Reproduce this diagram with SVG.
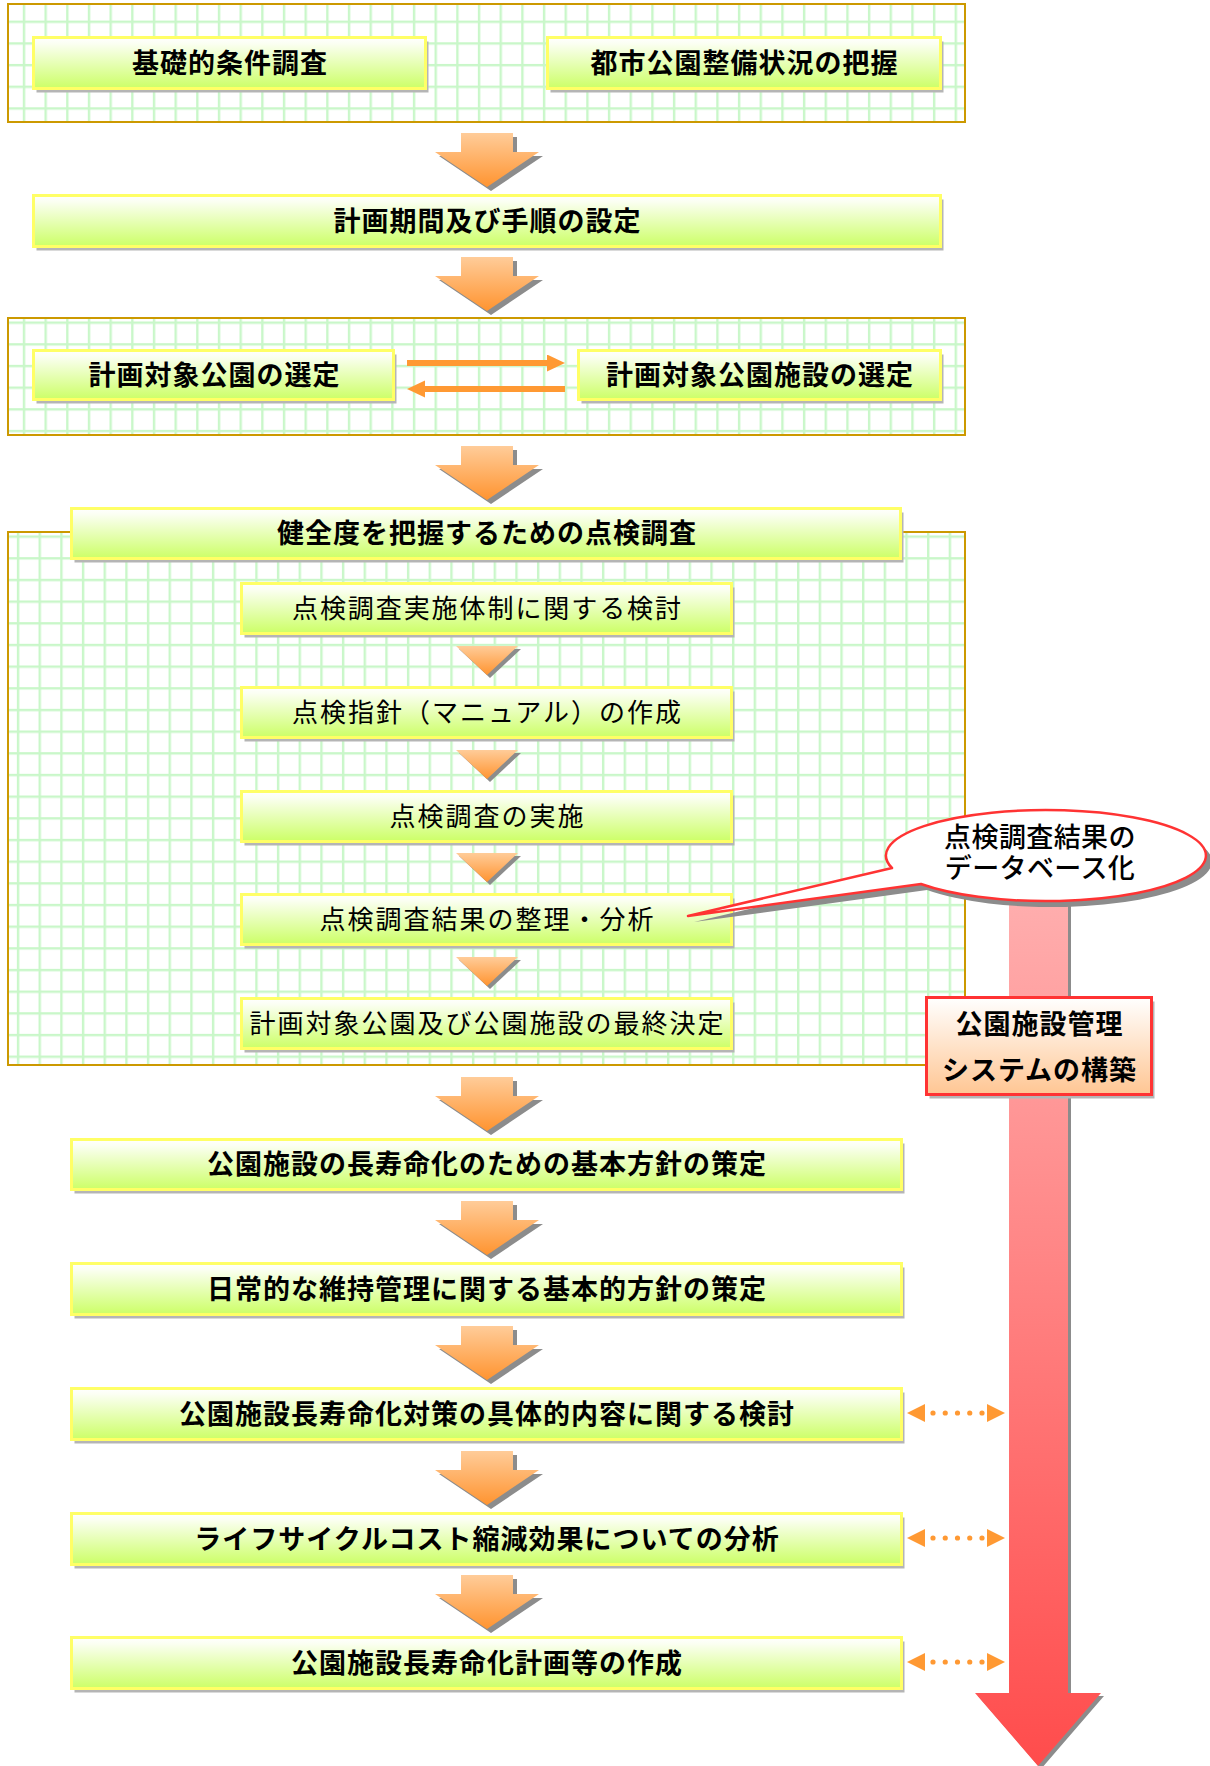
<svg xmlns="http://www.w3.org/2000/svg" xmlns:xlink="http://www.w3.org/1999/xlink" width="1210" height="1766" viewBox="0 0 1210 1766">
<style>
.panel{stroke:#cc9900;stroke-width:2}
.box{fill:url(#gBox);stroke:#ffff66;stroke-width:3}
.sh{fill:#b5b5b5}
.t1{font-family:"Noto Sans CJK JP","Noto Sans CJK SC",sans-serif;font-weight:700;font-size:27px;letter-spacing:1px;text-anchor:middle;fill:#000}
.t2{font-family:"Noto Sans CJK JP","Noto Sans CJK SC",sans-serif;font-weight:400;font-size:26px;letter-spacing:2px;text-anchor:middle;fill:#000}
.t3{font-family:"Liberation Sans","Noto Sans CJK JP","Noto Sans CJK SC",sans-serif;font-weight:500;font-size:27px;letter-spacing:0.4px;text-anchor:middle;fill:#000}
.ash{fill:#8c8c8c}
.aor{fill:url(#gOr)}
.sol{stroke:#ff9933;stroke-width:6;fill:none}
.dot{stroke:#ff9933;stroke-width:5.2;stroke-linecap:round;stroke-dasharray:0 12.25;stroke-dashoffset:4.25;fill:none}
</style>
<defs>
<linearGradient id="gBox" x1="0" y1="0" x2="0" y2="1">
<stop offset="0" stop-color="#ffffff"/>
<stop offset="0.12" stop-color="#fbfff2"/>
<stop offset="1" stop-color="#ccff66"/>
</linearGradient>
<linearGradient id="gOr" x1="0" y1="0" x2="0" y2="1">
<stop offset="0" stop-color="#ffcc99"/>
<stop offset="1" stop-color="#ff9430"/>
</linearGradient>
<linearGradient id="gPeach" x1="0" y1="0" x2="0" y2="1">
<stop offset="0" stop-color="#ffffff"/>
<stop offset="1" stop-color="#ffc693"/>
</linearGradient>
<linearGradient id="gRed" gradientUnits="userSpaceOnUse" x1="0" y1="880" x2="0" y2="1766">
<stop offset="0" stop-color="#ffb0b0"/>
<stop offset="1" stop-color="#ff4c4c"/>
</linearGradient>
<pattern id="grid1" patternUnits="userSpaceOnUse" x="22.8" y="20.6" width="21.67" height="21.67">
<rect width="21.67" height="21.67" fill="#ffffff"/>
<rect width="2.4" height="21.67" fill="#c9f7c9"/>
<rect width="21.67" height="2.4" fill="#c9f7c9"/>
</pattern>
<pattern id="grid2" patternUnits="userSpaceOnUse" x="22.8" y="321.5" width="21.67" height="21.67">
<rect width="21.67" height="21.67" fill="#ffffff"/>
<rect width="2.4" height="21.67" fill="#c9f7c9"/>
<rect width="21.67" height="2.4" fill="#c9f7c9"/>
</pattern>
<pattern id="grid3" patternUnits="userSpaceOnUse" x="862" y="795.5" width="21.67" height="21.67">
<rect width="21.67" height="21.67" fill="#ffffff"/>
<rect width="2.4" height="21.67" fill="#c9f7c9"/>
<rect width="21.67" height="2.4" fill="#c9f7c9"/>
</pattern>
<path id="bigArrow" d="M-26,0 H26 V19 H52 L0,54 L-52,19 H-26 Z"/>
<path id="smallTri" d="M-31,0 H31 L0,29 Z"/>
<marker id="mSolid" markerUnits="userSpaceOnUse" markerWidth="18" markerHeight="18" refX="0" refY="8.5" orient="auto-start-reverse">
<path d="M0,0 L18,8.5 L0,17 Z" fill="#ff9933"/>
</marker>
<marker id="mDot" markerUnits="userSpaceOnUse" markerWidth="18" markerHeight="19" refX="0" refY="9" orient="auto-start-reverse">
<path d="M0,0 L18,9 L0,18 Z" fill="#ff9933"/>
</marker>
</defs>

<rect width="1210" height="1766" fill="#ffffff"/>

<g id="panel1"><rect class="panel" x="8" y="4" width="957" height="118" fill="url(#grid1)"/></g>
<g id="panel2"><rect class="panel" x="8" y="318" width="957" height="117" fill="url(#grid2)"/></g>
<g id="panel3"><rect class="panel" x="8" y="532" width="957" height="533" fill="url(#grid3)"/></g>

<g id="system-arrow">
<path class="ash" transform="translate(3,3)" d="M1009,880 H1068 V1693 H1101 L1038,1766 L975,1693 H1009 Z"/>
<path fill="url(#gRed)" d="M1009,880 H1068 V1693 H1101 L1038,1766 L975,1693 H1009 Z"/>
</g>

<g id="connectors">
<use href="#bigArrow" class="ash" x="491" y="137"/><use href="#bigArrow" class="aor" x="487" y="133"/>
<use href="#bigArrow" class="ash" x="491" y="261"/><use href="#bigArrow" class="aor" x="487" y="257"/>
<use href="#bigArrow" class="ash" x="491" y="450"/><use href="#bigArrow" class="aor" x="487" y="446"/>
<use href="#bigArrow" class="ash" x="491" y="1081"/><use href="#bigArrow" class="aor" x="487" y="1077"/>
<use href="#bigArrow" class="ash" x="491" y="1205"/><use href="#bigArrow" class="aor" x="487" y="1201"/>
<use href="#bigArrow" class="ash" x="491" y="1330"/><use href="#bigArrow" class="aor" x="487" y="1326"/>
<use href="#bigArrow" class="ash" x="491" y="1455"/><use href="#bigArrow" class="aor" x="487" y="1451"/>
<use href="#bigArrow" class="ash" x="491" y="1579"/><use href="#bigArrow" class="aor" x="487" y="1575"/>
<use href="#smallTri" class="ash" x="490" y="649"/><use href="#smallTri" class="aor" x="487" y="646"/>
<use href="#smallTri" class="ash" x="490" y="753"/><use href="#smallTri" class="aor" x="487" y="750"/>
<use href="#smallTri" class="ash" x="490" y="856"/><use href="#smallTri" class="aor" x="487" y="853"/>
<use href="#smallTri" class="ash" x="490" y="960"/><use href="#smallTri" class="aor" x="487" y="957"/>
<line class="sol" x1="407" y1="363" x2="547" y2="363" marker-end="url(#mSolid)"/>
<line class="sol" x1="565" y1="389" x2="425" y2="389" marker-end="url(#mSolid)"/>
<line class="dot" x1="925" y1="1413" x2="987" y2="1413" marker-start="url(#mDot)" marker-end="url(#mDot)"/>
<line class="dot" x1="925" y1="1538" x2="987" y2="1538" marker-start="url(#mDot)" marker-end="url(#mDot)"/>
<line class="dot" x1="925" y1="1662" x2="987" y2="1662" marker-start="url(#mDot)" marker-end="url(#mDot)"/>
</g>

<g id="n-kiso"><rect class="sh" x="36.5" y="41.5" width="392" height="51"/><rect class="box" x="33.5" y="37.5" width="392" height="51"/><text class="t1" x="230" y="73">基礎的条件調査</text></g>
<g id="n-toshi"><rect class="sh" x="550.5" y="41.5" width="393" height="51"/><rect class="box" x="547.5" y="37.5" width="393" height="51"/><text class="t1" x="744.5" y="73">都市公園整備状況の把握</text></g>
<g id="n-keikaku"><rect class="sh" x="36.5" y="199.5" width="907" height="51"/><rect class="box" x="33.5" y="195.5" width="907" height="51"/><text class="t1" x="487.5" y="231">計画期間及び手順の設定</text></g>
<g id="n-koen"><rect class="sh" x="36.5" y="354.5" width="360" height="49"/><rect class="box" x="33.5" y="350.5" width="360" height="49"/><text class="t1" x="214.5" y="385">計画対象公園の選定</text></g>
<g id="n-shisetsu"><rect class="sh" x="581.5" y="354.5" width="362" height="49"/><rect class="box" x="578.5" y="350.5" width="362" height="49"/><text class="t1" x="760" y="385">計画対象公園施設の選定</text></g>
<g id="n-kenzen"><rect class="sh" x="74.5" y="512.5" width="829" height="50"/><rect class="box" x="71.5" y="508.5" width="829" height="50"/><text class="t1" x="487" y="543">健全度を把握するための点検調査</text></g>
<g id="n-s1"><rect class="sh" x="244.5" y="587.5" width="490" height="50"/><rect class="box" x="241.5" y="583.5" width="490" height="50"/><text class="t2" x="487.5" y="618" textLength="391">点検調査実施体制に関する検討</text></g>
<g id="n-s2"><rect class="sh" x="244.5" y="691.5" width="490" height="50"/><rect class="box" x="241.5" y="687.5" width="490" height="50"/><text class="t2" x="487.5" y="722" textLength="391">点検指針（マニュアル）の作成</text></g>
<g id="n-s3"><rect class="sh" x="244.5" y="795.5" width="490" height="50"/><rect class="box" x="241.5" y="791.5" width="490" height="50"/><text class="t2" x="487.5" y="826">点検調査の実施</text></g>
<g id="n-s4"><rect class="sh" x="244.5" y="898.5" width="490" height="50"/><rect class="box" x="241.5" y="894.5" width="490" height="50"/><text class="t2" x="487.5" y="929">点検調査結果の整理・分析</text></g>
<g id="n-s5"><rect class="sh" x="244.5" y="1002.5" width="490" height="50"/><rect class="box" x="241.5" y="998.5" width="490" height="50"/><text class="t2" x="487.5" y="1033">計画対象公園及び公園施設の最終決定</text></g>
<g id="n-g1"><rect class="sh" x="74.5" y="1143.5" width="830" height="50"/><rect class="box" x="71.5" y="1139.5" width="830" height="50"/><text class="t1" x="487" y="1174">公園施設の長寿命化のための基本方針の策定</text></g>
<g id="n-g2"><rect class="sh" x="74.5" y="1267.5" width="830" height="51"/><rect class="box" x="71.5" y="1263.5" width="830" height="51"/><text class="t1" x="487" y="1299">日常的な維持管理に関する基本的方針の策定</text></g>
<g id="n-g3"><rect class="sh" x="74.5" y="1392.5" width="830" height="51"/><rect class="box" x="71.5" y="1388.5" width="830" height="51"/><text class="t1" x="487" y="1424">公園施設長寿命化対策の具体的内容に関する検討</text></g>
<g id="n-g4"><rect class="sh" x="74.5" y="1517.5" width="830" height="51"/><rect class="box" x="71.5" y="1513.5" width="830" height="51"/><text class="t1" x="487" y="1549">ライフサイクルコスト縮減効果についての分析</text></g>
<g id="n-g5"><rect class="sh" x="74.5" y="1641.5" width="830" height="51"/><rect class="box" x="71.5" y="1637.5" width="830" height="51"/><text class="t1" x="487" y="1673">公園施設長寿命化計画等の作成</text></g>

<g id="n-callout">
<path transform="translate(6,6)" fill="#8c8c8c" d="M892,868 L688,916 L921,884 A160 45.5 0 1 0 892,868 Z"/>
<path fill="#ffffff" stroke="#ff3333" stroke-width="2.5" stroke-linejoin="round" d="M892,868 L688,916 L921,884 A160 45.5 0 1 0 892,868 Z"/>
<text class="t3" lang="ja"><tspan x="1040" y="846.5">点検調査結果の</tspan><tspan x="1040" y="877.5">データベース化</tspan></text>
</g>

<g id="n-system">
<rect class="sh" x="929.5" y="1001.5" width="225" height="97"/>
<rect x="926.5" y="997.5" width="225" height="97" fill="url(#gPeach)" stroke="#ff3333" stroke-width="3"/>
<text class="t1" x="1039.5" y="1034">公園施設管理</text>
<text class="t1" x="1039.5" y="1080">システムの構築</text>
</g>
</svg>
